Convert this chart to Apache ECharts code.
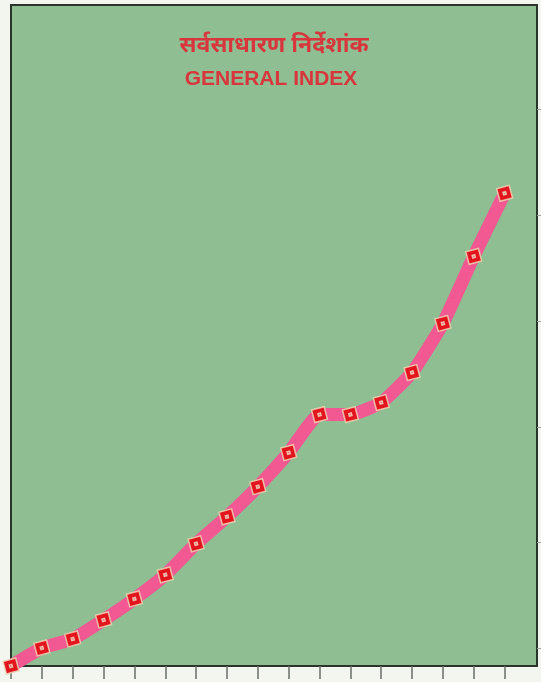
<!DOCTYPE html>
<html>
<head>
<meta charset="utf-8">
<script src="https://cdn.jsdelivr.net/npm/echarts@6/dist/echarts.min.js"></script>
<style>
  html, body { margin: 0; padding: 0; background: #f3f5ef; }
  #chart { width: 541px; height: 682px; }
</style>
</head>
<body>
<div id="chart"></div>
<script>
// General index, one reading per period (17 periods)
const periods = [1, 2, 3, 4, 5, 6, 7, 8, 9, 10, 11, 12, 13, 14, 15, 16, 17];
const indexValues = [100, 109, 113.5, 123, 133.5, 145.5, 161, 174.5, 189.5, 206.5, 225.5, 225.5, 231.5, 246.5, 271, 304.5, 336];
const rightTicks = [109, 162, 219, 272, 325, 378];

const titleHindi = 'सर्वसाधारण निर्देशांक';
const titleEnglish = 'GENERAL INDEX';

const points = indexValues.map((v, i) => [i, v]);
const xTicks = periods.map((p, i) => i);

const chart = echarts.init(document.getElementById('chart'), null, { renderer: 'canvas' });

chart.setOption({
  animation: false,
  backgroundColor: '#f3f5ef',
  title: [
    {
      text: titleHindi,
      left: 269, top: 31, textAlign: 'center',
      textStyle: {
        color: '#d8363c', fontSize: 23, fontWeight: 'bold',
        fontFamily: '"Noto Sans Devanagari", "Noto Sans", sans-serif'
      }
    },
    {
      text: titleEnglish,
      left: 266, top: 64, textAlign: 'center',
      textStyle: {
        color: '#d8363c', fontSize: 21, fontWeight: 'bold',
        fontFamily: '"Liberation Sans", Arial, sans-serif'
      }
    }
  ],
  grid: {
    left: 11, right: 4, top: 5, bottom: 16,
    show: true,
    backgroundColor: '#8fbe93',
    borderColor: '#2b342b',
    borderWidth: 2
  },
  xAxis: {
    type: 'value',
    min: 0, max: 17.05,
    interval: 1,
    axisLine: { show: true, onZero: false, lineStyle: { color: '#2b342b', width: 2 } },
    axisTick: {
      show: true, inside: false, length: 13,
      customValues: xTicks,
      lineStyle: { color: '#6a6f6a', width: 1.5 }
    },
    axisLabel: { show: false },
    splitLine: { show: false }
  },
  yAxis: [
    {
      type: 'value',
      min: 100, max: 430,
      axisLine: { show: false },
      axisTick: { show: false },
      axisLabel: { show: false },
      splitLine: { show: false }
    },
    {
      type: 'value',
      position: 'right',
      min: 100, max: 430,
      axisLine: { show: false },
      axisTick: {
        show: true, inside: false, length: 4,
        customValues: rightTicks,
        lineStyle: { color: '#9aa09a', width: 1 }
      },
      axisLabel: { show: false },
      splitLine: { show: false }
    }
  ],
  series: [
    {
      type: 'line',
      data: points,
      smooth: 0.15,
      clip: false,
      lineStyle: { color: '#f25891', width: 13, cap: 'butt', join: 'round' },
      symbol: 'path://M0,0L10,0L10,10L0,10Z M4,4L4,6L6,6L6,4Z',
      symbolSize: 13,
      symbolRotate: 15,
      showSymbol: true,
      itemStyle: {
        color: '#e3141e',
        borderColor: 'rgba(238,214,180,0.85)',
        borderWidth: 1.5
      },
      z: 3
    }
  ]
});
</script>
</body>
</html>
